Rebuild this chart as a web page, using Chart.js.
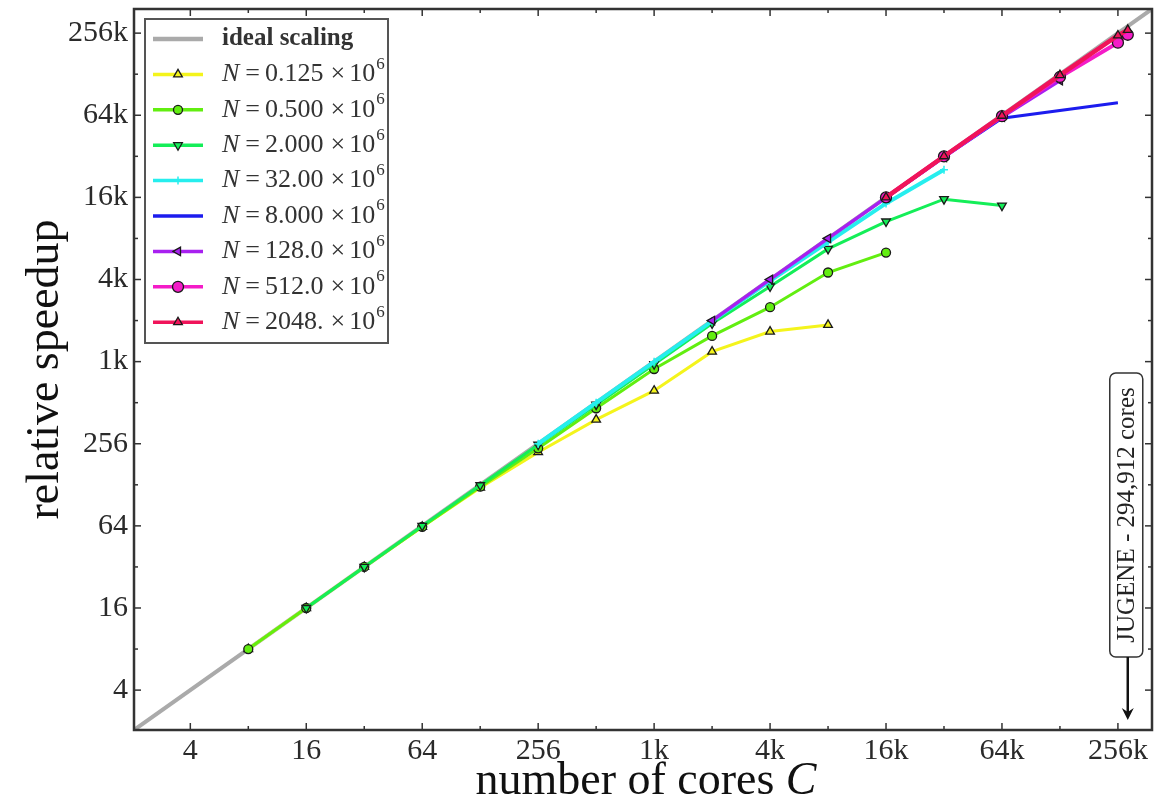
<!DOCTYPE html>
<html lang="en">
<head>
<meta charset="UTF-8" />
<title>relative speedup</title>
<script src="https://cdn.jsdelivr.net/npm/chart.js"></script>
<style>
  body { margin: 0; background: #fff; }
  #box { width: 1163px; height: 804px; }
</style>
</head>
<body>
<div id="box"><canvas id="grafico"></canvas></div>
<script>
  // axis range (both axes the same, ideal line runs corner to corner)
  const axisMin = 2.04;
  const axisMax = 394000;
  const tickValues = [4, 16, 64, 256, 1024, 4096, 16384, 65536, 262144];

  const coresN0125 = [8, 16, 32, 64, 128, 256, 512, 1024, 2048, 4096, 8192];
  const speedN0125 = [8, 16, 32, 63, 122, 222, 385, 627, 1212, 1700, 1903];

  const coresN0500 = [8, 16, 32, 64, 128, 256, 512, 1024, 2048, 4096, 8192, 16384];
  const speedN0500 = [8, 16, 32, 63, 124, 237, 466, 904, 1581, 2566, 4610, 6450];

  const coresN2000 = [16, 32, 64, 128, 256, 512, 1024, 2048, 4096, 8192, 16384, 32768, 65536];
  const speedN2000 = [16, 32, 64, 127, 252, 495, 980, 1950, 3640, 6870, 10900, 15900, 14260];

  const coresN32 = [256, 512, 1024, 2048, 4096, 8192, 16384, 32768];
  const speedN32 = [256, 512, 1020, 2030, 4000, 7700, 14800, 26100];

  const coresN8 = [16384, 32768, 65536, 262144];
  const speedN8 = [16300, 32400, 62400, 81000];

  const coresN128 = [2048, 4096, 8192, 16384, 32768, 65536, 131072];
  const speedN128 = [2047, 4100, 8200, 16300, 32300, 63500, 118000];

  const coresN512 = [16384, 32768, 65536, 131072, 262144, 294912];
  const speedN512 = [16384, 32700, 64500, 125000, 223000, 255000];

  const coresN2048 = [16384, 32768, 65536, 131072, 262144, 294912];
  const speedN2048 = [16400, 32800, 65000, 129000, 252000, 277000];

  const mantissas = ["0.125", "0.500", "2.000", "32.00", "8.000", "128.0", "512.0", "2048."];
  const jugeneCores = 294912;

  const fonte = "'Liberation Serif', 'DejaVu Serif', serif";

  function pontos(cores, speed) {
    return cores.map((c, i) => ({ x: c, y: speed[i] }));
  }

  function serie(cores, speed, cor, largura, estilo, rotacao, raio) {
    return {
      data: pontos(cores, speed),
      borderColor: cor,
      backgroundColor: cor,
      borderWidth: largura,
      pointStyle: estilo,
      pointRotation: rotacao,
      pointRadius: raio,
      pointBackgroundColor: cor,
      pointBorderColor: estilo === "cross" ? cor : "#1a1a1a",
      pointBorderWidth: estilo === "cross" ? 1.5 : 1.3,
      tension: 0,
    };
  }

  const datasets = [
    {
      data: [{ x: axisMin, y: axisMin }, { x: axisMax, y: axisMax }],
      borderColor: "#aaaaaa",
      borderWidth: 4,
      pointRadius: 0,
    },
    serie(coresN0125, speedN0125, "#f4f41c", 3, "triangle", 0, 5),
    serie(coresN0500, speedN0500, "#62ee10", 3, "circle", 0, 4.5),
    serie(coresN2000, speedN2000, "#14ee58", 3, "triangle", 180, 5),
    serie(coresN32, speedN32, "#26eeee", 4, "cross", 0, 4),
    serie(coresN8, speedN8, "#1c1cee", 3, "circle", 0, 0),
    serie(coresN128, speedN128, "#a820f0", 3.5, "triangle", 270, 5),
    serie(coresN512, speedN512, "#f41cc8", 4, "circle", 0, 5.5),
    serie(coresN2048, speedN2048, "#f0145a", 4.5, "triangle", 0, 5),
  ];
  datasets.forEach((d, i) => (d.order = datasets.length - i));

  function rotulo(v) {
    return v >= 1024 ? v / 1024 + "k" : String(v);
  }

  function eixo(tamanho, horizontal) {
    return {
      type: "logarithmic",
      min: axisMin,
      max: axisMax,
      afterBuildTicks: (axis) => {
        axis.ticks = tickValues.map((v) => ({ value: v }));
      },
      afterFit: (axis) => {
        if (horizontal) axis.height = tamanho;
        else axis.width = tamanho;
        axis.paddingTop = 0;
        axis.paddingBottom = 0;
        axis.paddingLeft = 0;
        axis.paddingRight = 0;
      },
      grid: { display: false, drawTicks: false },
      border: { display: false },
      ticks: {
        callback: (v) => rotulo(v),
        font: { family: fonte, size: 30 },
        color: "#2a2a2a",
        padding: horizontal ? 3 : 6,
        autoSkip: false,
        maxRotation: 0,
      },
    };
  }

  const moldura = {
    id: "moldura",
    afterDatasetsDraw(chart) {
      const { ctx, chartArea: a, scales } = chart;
      ctx.save();
      ctx.strokeStyle = "#333";
      ctx.lineWidth = 1.5;
      const linha = (x1, y1, x2, y2) => {
        ctx.beginPath();
        ctx.moveTo(x1, y1);
        ctx.lineTo(x2, y2);
        ctx.stroke();
      };
      for (let e = 1; e <= 19; e++) {
        const v = Math.pow(2, e);
        if (v <= axisMin || v >= axisMax) continue;
        const len = e % 2 === 0 ? 7 : 4;
        const px = scales.x.getPixelForValue(v);
        const py = scales.y.getPixelForValue(v);
        linha(px, a.bottom, px, a.bottom - len);
        linha(px, a.top, px, a.top + len);
        linha(a.left, py, a.left + len, py);
        linha(a.right, py, a.right - len, py);
      }
      ctx.lineWidth = 2.5;
      ctx.strokeRect(a.left, a.top, a.right - a.left, a.bottom - a.top);
      ctx.restore();
    },
    afterDraw(chart) {
      const { ctx, chartArea: a, scales } = chart;
      ctx.save();

      // legenda
      const lx = a.left + 11, ly = a.top + 10, lw = 243, lh = 324;
      ctx.fillStyle = "#fff";
      ctx.fillRect(lx, ly, lw, lh);
      ctx.strokeStyle = "#555";
      ctx.lineWidth = 2;
      ctx.strokeRect(lx, ly, lw, lh);
      chart.data.datasets.forEach((d, i) => {
        const yy = ly + 20 + i * 35.4;
        ctx.strokeStyle = d.borderColor;
        ctx.lineWidth = i === 0 ? 4.5 : 3.5;
        ctx.beginPath();
        ctx.moveTo(lx + 8, yy);
        ctx.lineTo(lx + 58, yy);
        ctx.stroke();
        if (d.pointRadius > 0) {
          ctx.fillStyle = d.pointBackgroundColor;
          ctx.strokeStyle = d.pointBorderColor;
          ctx.lineWidth = d.pointBorderWidth;
          Chart.helpers.drawPoint(ctx, {
            pointStyle: d.pointStyle,
            rotation: d.pointRotation,
            radius: d.pointRadius,
            borderWidth: d.pointBorderWidth,
          }, lx + 33, yy);
        }
        ctx.fillStyle = "#333";
        ctx.textBaseline = "middle";
        ctx.textAlign = "left";
        let x = lx + 77;
        if (i === 0) {
          ctx.font = "bold 25px " + fonte;
          ctx.fillText("ideal scaling", x, yy);
          return;
        }
        ctx.font = "italic 26px " + fonte;
        ctx.fillText("N", x, yy);
        x += ctx.measureText("N").width + 6;
        ctx.font = "26px " + fonte;
        ctx.fillText("=", x, yy);
        x += ctx.measureText("=").width + 5;
        ctx.fillText(mantissas[i - 1], x, yy);
        x += ctx.measureText(mantissas[i - 1]).width + 7;
        ctx.fillText("×", x, yy);
        x += ctx.measureText("×").width + 4;
        ctx.fillText("10", x, yy);
        x += ctx.measureText("10").width + 1;
        ctx.font = "17px " + fonte;
        ctx.fillText("6", x, yy - 10);
      });

      // JUGENE
      const jx = scales.x.getPixelForValue(jugeneCores);
      const bx = jx - 18, by = a.top + 364, bw = 33, bh = 284;
      ctx.fillStyle = "#fff";
      ctx.strokeStyle = "#333";
      ctx.lineWidth = 1.5;
      ctx.beginPath();
      ctx.roundRect(bx, by, bw, bh, 6);
      ctx.fill();
      ctx.stroke();
      ctx.save();
      ctx.translate(bx + bw / 2 + 1, by + bh / 2);
      ctx.rotate(-Math.PI / 2);
      ctx.fillStyle = "#222";
      ctx.font = "25px " + fonte;
      ctx.textAlign = "center";
      ctx.textBaseline = "middle";
      ctx.fillText("JUGENE - 294,912 cores", 0, 0);
      ctx.restore();
      ctx.strokeStyle = "#111";
      ctx.lineWidth = 2.5;
      ctx.beginPath();
      ctx.moveTo(jx, by + bh);
      ctx.lineTo(jx, a.bottom - 16);
      ctx.stroke();
      ctx.fillStyle = "#111";
      ctx.beginPath();
      ctx.moveTo(jx - 6, a.bottom - 22);
      ctx.lineTo(jx, a.bottom - 10);
      ctx.lineTo(jx + 6, a.bottom - 22);
      ctx.lineTo(jx, a.bottom - 18);
      ctx.closePath();
      ctx.fill();

      // titulos dos eixos
      ctx.fillStyle = "#111";
      ctx.textBaseline = "alphabetic";
      ctx.textAlign = "left";
      ctx.font = "46px " + fonte;
      const t1 = "number of cores ";
      const w1 = ctx.measureText(t1).width;
      ctx.font = "italic 46px " + fonte;
      const w2 = ctx.measureText("C").width;
      const cx = (a.left + a.right) / 2 + 3;
      ctx.font = "46px " + fonte;
      ctx.fillText(t1, cx - (w1 + w2) / 2, 794);
      ctx.font = "italic 46px " + fonte;
      ctx.fillText("C", cx - (w1 + w2) / 2 + w1, 794);

      ctx.save();
      ctx.translate(58, (a.top + a.bottom) / 2);
      ctx.rotate(-Math.PI / 2);
      ctx.font = "46px " + fonte;
      ctx.textAlign = "center";
      ctx.fillText("relative speedup", 0, 0);
      ctx.restore();

      ctx.restore();
    },
  };

  new Chart(document.getElementById("grafico"), {
    type: "line",
    data: { datasets: datasets },
    options: {
      responsive: true,
      maintainAspectRatio: false,
      animation: false,
      layout: { padding: { top: 9, right: 11, left: 0, bottom: 0 } },
      scales: {
        x: eixo(74, true),
        y: eixo(134, false),
      },
      plugins: {
        legend: { display: false },
        tooltip: { enabled: false },
      },
    },
    plugins: [moldura],
  });
</script>
</body>
</html>
